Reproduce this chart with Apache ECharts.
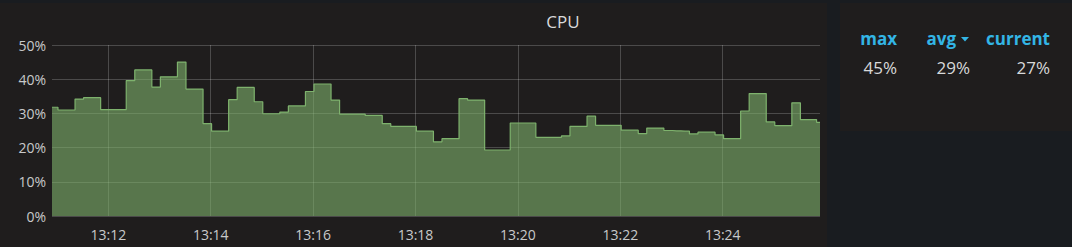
<!DOCTYPE html>
<html>
<head>
<meta charset="utf-8">
<script src="https://cdn.jsdelivr.net/npm/echarts@6/dist/echarts.min.js"></script>
<style>
html,body{margin:0;padding:0;background:#191c20;}
#c{width:1072px;height:247px;}
</style>
</head>
<body>
<div id="c"></div>
<script>
// ---- data ----
const title = 'CPU';
const sampleStart = [13, 10, 46];   // first sample time (h, m, s)
const sampleStepSec = 10;           // sampling interval
const cpuValues = [
  31.8, 31.8, 31.0, 31.0, 34.2, 34.6, 34.6, 31.1, 31.1, 31.1,
  39.6, 42.7, 42.7, 37.7, 40.7, 40.7, 45.0, 37.1, 37.1, 27.0,
  24.8, 24.8, 34.0, 37.6, 37.6, 33.4, 29.9, 29.9, 30.4, 32.2,
  32.2, 36.4, 38.6, 38.6, 33.9, 29.8, 29.8, 29.8, 29.4, 29.4,
  27.0, 26.2, 26.2, 26.2, 24.8, 24.8, 21.7, 22.6, 22.6, 34.3,
  33.9, 33.9, 19.3, 19.3, 19.3, 27.2, 27.2, 27.2, 23.0, 23.0,
  23.0, 23.4, 26.2, 26.2, 29.2, 26.5, 26.5, 26.5, 25.1, 25.1,
  24.1, 25.7, 25.7, 25.0, 24.9, 24.8, 24.0, 24.5, 24.5, 23.7,
  22.6, 22.6, 30.7, 35.8, 35.8, 27.5, 26.4, 26.4, 33.1, 28.2,
  28.2, 27.4
];
const yTicks = [0, 10, 20, 30, 40, 50];
const xTickLabels = ['13:12', '13:14', '13:16', '13:18', '13:20', '13:22', '13:24'];
const axisRange = [[13, 10, 54], [13, 25, 54]];
const legendHeaders = ['max', 'avg', 'current'];
const legendValues = ['45%', '29%', '27%'];

// ---- build (x in seconds of day) ----
function t(h, m, s) { return h * 3600 + m * 60 + s; }
const xMin = t(...axisRange[0]);
const xMax = t(...axisRange[1]);
const t0 = t(...sampleStart);
const seriesData = cpuValues.map((v, i) => [Math.min(xMax, Math.max(xMin, t0 + i * sampleStepSec)), v]);
const xTickValues = xTickLabels.map(s => { const p = s.split(':'); return t(+p[0], +p[1], 0); });

const FONT = '"Open Sans", "DejaVu Sans", sans-serif';
const PANEL = '#1f1d1d';
const OUTER = '#191c20';
const BLUE = '#33b5e5';

const chart = echarts.init(document.getElementById('c'), null, {renderer: 'svg'});

const colRight = [897, 956, 1050];

const graphics = [
  {type: 'rect', z: -10, silent: true, shape: {x: 0, y: 3, width: 827, height: 244}, style: {fill: PANEL}},
  {type: 'rect', z: -10, silent: true, shape: {x: 840, y: 3, width: 232, height: 128}, style: {fill: PANEL}},
  {type: 'text', x: 563, y: 21, style: {text: title, fill: '#d8d9da', font: '17px ' + FONT, align: 'center', verticalAlign: 'middle'}},
  {type: 'polygon', shape: {points: [[961, 37], [969, 37], [965, 41.5]]}, style: {fill: BLUE}}
];
legendHeaders.forEach((h, i) => {
  graphics.push({type: 'text', x: colRight[i], y: 38,
    style: {text: h, fill: BLUE, font: 'bold 17px ' + FONT, align: 'right', verticalAlign: 'middle'}});
});
legendValues.forEach((v, i) => {
  graphics.push({type: 'text', x: i === 1 ? 970 : colRight[i], y: 67,
    style: {text: v, fill: '#d8d9da', font: '17px ' + FONT, align: 'right', verticalAlign: 'middle'}});
});

function fmtTime(val) {
  const h = Math.floor(val / 3600), m = Math.floor((val % 3600) / 60);
  return String(h).padStart(2, '0') + ':' + String(m).padStart(2, '0');
}

chart.setOption({
  backgroundColor: OUTER,
  animation: false,
  grid: {left: 52, right: 252, top: 45, bottom: 31, containLabel: false},
  xAxis: {
    type: 'value',
    min: xMin,
    max: xMax,
    axisLine: {show: false},
    axisTick: {show: false, customValues: xTickValues},
    axisLabel: {color: '#c8c9ca', fontFamily: FONT, fontSize: 14, margin: 11,
      customValues: xTickValues, formatter: fmtTime},
    splitLine: {show: true, lineStyle: {color: 'rgba(255,255,255,0.2)', width: 1}}
  },
  yAxis: {
    type: 'value',
    min: yTicks[0],
    max: yTicks[yTicks.length - 1],
    interval: 10,
    axisLine: {show: false},
    axisTick: {show: false},
    axisLabel: {color: '#c8c9ca', fontFamily: FONT, fontSize: 14, margin: 6, formatter: '{value}%'},
    splitLine: {show: true, lineStyle: {color: 'rgba(255,255,255,0.2)', width: 1}}
  },
  series: [{
    type: 'line',
    name: 'CPU',
    data: seriesData,
    step: 'middle',
    symbol: 'none',
    lineStyle: {color: '#7EB26D', width: 1.2},
    itemStyle: {color: '#7EB26D'},
    areaStyle: {color: '#7EB26D', opacity: 0.6}
  }],
  graphic: graphics
});
</script>
</body>
</html>
